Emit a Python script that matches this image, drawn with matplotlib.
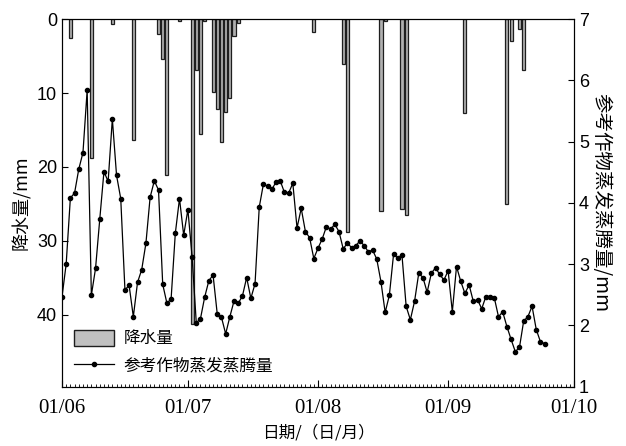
import numpy as np
import pandas as pd
import matplotlib
matplotlib.use("Agg")
import matplotlib.pyplot as plt
import matplotlib.dates as mdates
from matplotlib.patches import Patch
from matplotlib.lines import Line2D

plt.rcParams['font.family'] = ['Noto Sans CJK SC', 'DejaVu Sans']

# daily reference ET (mm), from 1 June
start = pd.Timestamp('2015-06-01')
et = [2.46, 3.00, 4.08, 4.16, 4.55, 4.82, 5.84, 2.49, 2.93, 3.73,
      4.51, 4.35, 5.37, 4.45, 4.07, 2.58, 2.65, 2.14, 2.70, 2.91,
      3.34, 4.09, 4.36, 4.21, 2.67, 2.36, 2.43, 3.50, 4.07, 3.47,
      3.89, 3.12, 2.04, 2.11, 2.46, 2.73, 2.82, 2.18, 2.13, 1.86,
      2.14, 2.40, 2.36, 2.48, 2.78, 2.44, 2.68, 3.93, 4.31, 4.27,
      4.22, 4.34, 4.36, 4.17, 4.16, 4.32, 3.59, 3.91, 3.53, 3.43,
      3.09, 3.26, 3.41, 3.61, 3.57, 3.65, 3.53, 3.25, 3.34, 3.27,
      3.30, 3.38, 3.30, 3.20, 3.23, 3.08, 2.71, 2.21, 2.49, 3.16,
      3.10, 3.15, 2.31, 2.09, 2.39, 2.85, 2.78, 2.54, 2.85, 2.94,
      2.83, 2.74, 2.89, 2.22, 2.96, 2.72, 2.52, 2.66, 2.39, 2.42,
      2.27, 2.47, 2.47, 2.45, 2.14, 2.22, 1.98, 1.77, 1.57, 1.64,
      2.07, 2.14, 2.31, 1.93, 1.73, 1.70]
et_dates = pd.date_range(start, periods=len(et), freq='D')

# rainfall events: day offset from 1 June, amount (mm)
rain_day = [2, 7, 12, 17, 23, 24, 25, 28, 31, 32, 33, 34, 36, 37, 38, 39, 40, 41, 42,
            60, 67, 68, 76, 77, 81, 82, 96, 106, 107, 109, 110]
rain_mm = [2.5, 18.8, 0.6, 16.3, 2.0, 5.4, 21.1, 0.3, 41.3, 6.9, 15.5, 0.3, 9.9, 12.2, 16.6, 12.5, 10.7, 2.3, 0.5,
           1.8, 6.1, 28.8, 26.0, 0.3, 25.7, 26.5, 12.7, 25.0, 2.95, 1.3, 6.9]
rain_dates = start + pd.to_timedelta(rain_day, unit='D')

month_ticks = pd.date_range('2015-06-01', '2015-10-01', freq='MS')

fig = plt.figure(figsize=(6.26, 4.46), dpi=100)
ax = fig.add_axes([0.099, 0.1334, 0.818, 0.8236])
ax.bar(rain_dates, rain_mm, width=0.75, color='#b0b0b0', edgecolor='#1e1e1e', linewidth=0.9)
ax.set_ylim(49.7, 0)
ax.set_xlim(month_ticks[0], month_ticks[-1])
ax.set_yticks([0, 10, 20, 30, 40])
ax.set_ylabel('降水量/mm', fontsize=13, labelpad=4)

ax2 = ax.twinx()
ax2.plot(et_dates, et, color='black', lw=0.9, marker='o', ms=3)
ax2.set_ylim(1, 7)
ax2.set_yticks(range(1, 8))
ax2.set_ylabel('参考作物蒸发蒸腾量/mm', fontsize=14, rotation=270, labelpad=16)

ax.xaxis.set_major_locator(mdates.MonthLocator())
ax.xaxis.set_major_formatter(mdates.DateFormatter('%d/%m'))
ax.xaxis.set_minor_locator(mdates.DayLocator())
ax.tick_params(axis='x', which='major', direction='in', length=5, width=0.8, pad=9)
ax.tick_params(axis='x', which='minor', direction='in', length=2.5, width=0.6)
ax.tick_params(axis='y', direction='in', length=4, width=0.8)
ax2.tick_params(axis='y', direction='in', length=4, width=0.8)
for t in ax.get_xticklabels():
    t.set_fontfamily('Liberation Serif')
    t.set_fontsize(15)
for t in ax.get_yticklabels() + ax2.get_yticklabels():
    t.set_fontfamily('Liberation Sans')
    t.set_fontsize(13)
ax.set_xlabel('日期/（日/月）', fontsize=12, labelpad=5)

handles = [Patch(facecolor='#c0c0c0', edgecolor='#1e1e1e', linewidth=1.0),
           Line2D([], [], color='black', lw=0.9, marker='o', ms=3)]
ax2.legend(handles, ['降水量', '参考作物蒸发蒸腾量'], loc='lower left', frameon=False,
           fontsize=12, handlelength=2.4, handleheight=1.1, handletextpad=0.6,
           borderaxespad=0.3, labelspacing=0.6, bbox_to_anchor=(0.0, 0.0))

fig.savefig('out.png', dpi=100)
